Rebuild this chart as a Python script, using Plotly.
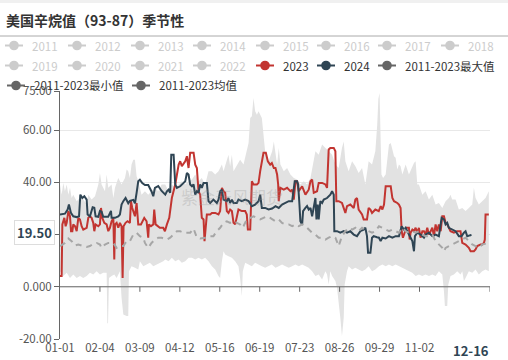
import plotly.graph_objects as go

# ---------------- data ----------------
title_text = "美国辛烷值（93-87）季节性"
x_tick_days = [0, 34, 68, 102, 136, 170, 204, 238, 272, 306]
x_tick_labels = ["01-01", "02-04", "03-09", "04-12", "05-16", "06-19", "07-23", "08-26", "09-29", "11-02"]
y_tick_vals = [-20, 0, 20, 40, 60, 75]
y_tick_labels = ["-20.00", "0.000", "", "40.00", "60.00", "75.00"]

pointer_day = 350
pointer_day_label = "12-16"
pointer_value = 19.50

d2024 = [0, 4.2, 6.5, 7.6, 9.3, 11.3, 14.2, 16.2, 17.3, 19, 20.7, 22.7, 23.5, 25.5, 27.8, 29.2, 30.3, 32.6, 34, 35.4,
         36.8, 41, 43.4, 43.9, 46.8, 49.6, 51, 52.4, 53.9, 55.8, 58.1, 59.5, 62.4, 63.8, 65.2, 66.6, 68, 70, 72.3, 75.1,
         77.9, 79.4, 80.8, 83.6, 86.5, 89.6, 91, 92.4, 93.8, 94.7, 96.7, 98.1, 99.5, 102.3, 105.2, 106.6, 108, 109.4,
         110.8, 112.3, 113.7, 115.1, 116.5, 117.9, 119.3, 120.7, 122.2, 125, 126.4, 127.8, 130.6, 133.5, 134.9, 136.3,
         137.8, 139.2, 142, 143.4, 144.8, 146.3, 147.7, 150.5, 151.9, 154.8, 157.6, 160.5, 163.3, 166.1, 169, 170.4,
         171.8, 174.6, 177.5, 180.6, 183.4, 186.2, 189, 191.9, 194.7, 197.6, 199.8, 201.8, 202.7, 203.8, 204.6, 206.1,
         206.9, 208.9, 210.3, 211.7, 213.2, 214.6, 216, 217.4, 218.3, 219.4, 220.2, 221.6, 223.1, 224.5, 227.3, 228.7,
         230.1, 231.6, 233, 233.5, 235.8, 238.6, 241.5, 244.3, 247.1, 250, 252.8, 255.6, 258.5, 259.9, 261.3, 262.2,
         264.2, 265.6, 267, 269.8, 271.5, 272.9, 274.4, 277.2, 280, 282.9, 285.7, 288.5, 290.8, 292.8, 294.2, 295.6,
         297, 298.4, 299.9, 301.3, 302.1, 304.1, 306.9, 309.8, 311.2, 314, 316.9, 319.7, 322.5, 324.8, 326.8, 328.2,
         329.6, 331, 333.8, 336.7, 339.5, 341.8, 343.8, 345.2, 346.6, 349.5, 350]
v2024 = [27.7, 28.0, 29.6, 31.5, 28.3, 27.0, 26.7, 27.0, 35.3, 34.0, 34.7, 33.4, 27.7, 27.0, 30.5, 30.3, 27.0, 26.8, 29.1, 28.8,
         26.8, 26.8, 29.1, 26.4, 26.4, 27.0, 27.7, 31.5, 32.8, 34.0, 32.0, 32.9, 33.3, 32.0, 36.0, 40.4, 41.0, 39.7, 39.0, 39.0,
         36.5, 34.7, 37.9, 38.6, 36.7, 35.3, 36.6, 37.2, 36.0, 50.6, 50.6, 39.2, 37.9, 38.5, 39.8, 40.4, 43.6, 43.0,
         39.2, 38.5, 39.2, 35.3, 36.6, 36.0, 39.2, 37.9, 39.8, 39.8, 32.8, 32.1, 33.4, 32.1, 33.4, 36.6,
         37.2, 33.4, 32.8, 34.0, 32.1, 33.4, 32.1, 32.1, 33.4, 32.8, 33.4, 32.8, 30.9, 31.5, 32.8, 35.3,
         30.2, 30.2, 29.6, 30.0, 30.9, 30.2, 31.5, 32.1, 32.8, 32.8, 40.4, 40.4, 39.2, 31.5, 25.1, 23.9,
         29.0, 30.2, 30.9, 29.6, 30.2, 27.0, 30.2, 34.0, 25.8, 31.5, 25.8, 32.8, 32.1, 33.4, 34.0, 34.7,
         35.3, 36.6, 35.3, 21.3, 21.3, 20.7, 21.3, 20.7, 21.3, 20.0, 19.4, 21.3, 21.9, 22.6, 19.4, 13.0,
         13.0, 18.8, 19.4, 19.0, 18.8, 17.5, 18.8, 18.5, 19.4, 18.8, 19.4, 19.4, 23.2, 21.9, 22.6, 21.3,
         20.0, 18.8, 17.5, 13.6, 19.4, 20.7, 20.0, 18.8, 20.0, 20.7, 19.4, 20.0, 19.4, 26.4, 25.8, 23.9,
         24.5, 22.6, 21.9, 21.3, 19.4, 19.4, 20.7, 21.3, 19.4, 19.8, 19.5]

d2023 = [0, 1.4, 2, 3.7, 4.8, 5.7, 7.1, 8.5, 9.4, 10.5, 11.3, 12.8, 14.2, 15.6, 17, 18.4, 19.8, 22.7, 24.1, 25.5,
         26.9, 28.3, 29.2, 30.3, 32.6, 34, 34.9, 36, 37.7, 39.7, 41.1, 42.5, 43.9, 45.4, 46.2, 46.8, 48.2, 49.6, 51,
         52.4, 53.3, 54.1, 55.8, 57.5, 59.5, 60.4, 61.5, 62.6, 63.8, 65.2, 66.6, 68.9, 70, 71.7, 73.7, 75.1, 75.7,
         77.4, 79.4, 80.2, 81.4, 83, 85, 87.9, 89.3, 91, 93, 95.2, 96.7, 98.1, 101, 102.3, 103.7, 105.2, 106.6, 108,
         109.4, 110.8, 113.7, 115.1, 116.5, 117.9, 119.3, 120.7, 122.2, 123, 124.2, 125, 127.8, 129.3, 132.1, 134.9,
         136.3, 137.8, 139.2, 140.6, 142, 143.4, 144.8, 146.3, 147.7, 149.1, 151.9, 154.8, 157.6, 159, 159.9, 161.9,
         163.3, 164.7, 167.6, 169, 170.4, 171.8, 173.2, 175.2, 176.9, 178.9, 180.3, 182, 183.4, 184.8, 185.7, 186.2,
         187.6, 190.5, 193.3, 196.1, 197.6, 199, 200.4, 201.8, 203.2, 206.1, 208.9, 211.7, 213.2, 214.6, 216, 218.8,
         220.2, 223.1, 225.9, 227.3, 228.7, 230.1, 233, 234.4, 235.2, 237.2, 240, 242.9, 244.3, 247.1, 250, 251.4,
         252.8, 254.2, 257.1, 258.5, 261.3, 262.7, 264.2, 265.6, 268.4, 271.3, 273, 274.4, 275.8, 277.2, 281.5,
         282.9, 284.3, 287.1, 288.5, 289.9, 290.8, 291.9, 293.6, 294.8, 297, 297.6, 298.4, 299.9, 301.3, 302.7,
         304.1, 305.5, 306.9, 308.4, 309.8, 311.2, 312.6, 314, 315.5, 316.9, 318.3, 319.7, 321.1, 322.5, 324, 325.4,
         326.8, 328.2, 329.6, 331, 332.4, 335.3, 338.1, 340.9, 342.4, 345.2, 348, 349.5, 352.3, 353.7, 355.1, 358,
         359.4, 360.8, 361.6, 362.2, 365]
v2023 = [4.1, 4.1, 23.9, 26.4, 23.2, 24.5, 29.0, 27.0, 21.3, 21.3, 23.9, 23.2, 21.3, 26.4, 25.8, 23.2, 21.9, 22.6, 26.4, 27.0,
         26.4, 24.5, 21.3, 23.9, 23.2, 23.9, 30.2, 26.4, 24.5, 23.9, 21.3, 22.6, 25.1, 26.4, 10.5, 23.9, 24.5, 22.6, 24.5,
         23.2, 3.4, 23.2, 24.5, 25.1, 24.5, 32.8, 30.2, 29.0, 27.0, 32.1, 23.9, 23.9, 25.1, 26.4, 25.1, 18.8, 23.9,
         23.2, 23.9, 29.6, 23.9, 23.2, 22.6, 22.6, 21.3, 23.9, 26.4, 34.0, 36.6, 39.2, 46.8, 48.1, 46.2, 47.4, 48.1, 50.0,
         45.5, 51.3, 51.3, 46.8, 45.5, 36.6, 35.3, 26.4, 25.8, 17.5, 25.1, 27.7, 27.7, 28.3, 28.3, 27.7,
         29.0, 37.9, 36.6, 36.0, 29.0, 28.3, 29.6, 29.0, 24.5, 23.9, 29.6, 29.0, 29.0, 27.7, 21.9, 21.9,
         40.4, 39.2, 39.2, 39.8, 44.3, 48.1, 51.3, 51.3, 48.1, 46.8, 47.4, 45.5, 45.5, 43.0, 39.2, 32.8,
         37.9, 37.2, 37.9, 36.6, 37.2, 33.4, 40.4, 40.4, 36.6, 38.5, 35.3, 37.2, 40.4, 41.1, 36.0, 36.6,
         39.8, 39.8, 39.2, 37.9, 52.6, 53.2, 53.2, 51.9, 32.8, 32.8, 32.1, 28.3, 30.9, 31.5, 30.2, 33.4,
         34.0, 29.6, 27.7, 25.8, 25.8, 30.2, 29.6, 28.3, 29.6, 29.0, 30.9, 29.6, 31.5, 38.5, 38.5,
         34.0, 32.8, 32.1, 31.5, 30.2, 21.3, 18.8, 21.3, 22.6, 22.6, 18.1, 20.7, 21.9, 21.3, 22.6,
         20.7, 22.6, 18.8, 21.3, 21.3, 20.0, 22.6, 20.0, 21.3, 22.6, 19.4, 23.9, 21.3, 23.9, 21.3, 27.0,
         27.0, 24.5, 23.9, 22.6, 21.3, 20.7, 21.3, 21.3, 16.8, 16.2, 14.9, 13.6, 13.6, 14.3, 15.6, 16.2,
         16.2, 16.8, 18.1, 27.7, 27.7]

d_mean = [0, 4.2, 7.1, 9.9, 12.8, 15.6, 18.4, 22.7, 25.5, 28.3, 31.2, 34, 35.4, 38.3, 41.1, 45.4, 48.2, 51, 53.9, 56.7,
          59.5, 62.4, 65.2, 68, 70.9, 72.3, 75.1, 77.9, 80.8, 83.6, 86.5, 91, 93.8, 96.7, 99.5, 102.3, 105.2, 108,
          110.8, 113.7, 115.1, 116.5, 119.3, 122.2, 125, 127.8, 130.6, 133.5, 136.3, 139.2, 142, 144.8, 147.7, 150.5,
          153.3, 154.8, 156.2, 159, 161.9, 164.7, 167.6, 170.4, 173.2, 176.1, 178.9, 180.6, 183.4, 186.2, 189, 191.9,
          194.7, 197.6, 200.4, 203.2, 206.1, 208.9, 211.7, 214.6, 217.4, 220.2, 223.1, 225.9, 228.7, 231.6, 234.4,
          237.2, 238.6, 240, 242.9, 245.7, 248.6, 251.4, 254.2, 257.1, 259.9, 262.7, 265.6, 268.4, 271.5, 274.4,
          277.2, 280, 282.9, 285.7, 288.5, 291.4, 294.2, 297, 299.9, 302.7, 305.5, 308.4, 311.2, 314, 316.9, 319.7,
          322.5, 325.4, 326.8, 328.2, 331, 333.8, 336.7, 339.5, 342.4, 345.2, 348, 350.9, 353.7, 356.5, 359.4, 362.2,
          365]
v_mean = [15.6, 16.8, 18.5, 17.5, 15.8, 16.2, 15.8, 15.3, 15.6, 16.5, 16.8, 16.2, 14.9, 16.2, 16.8, 16.8, 14.9, 15.6, 15.6, 17.5,
          17.5, 20.0, 20.7, 19.4, 18.8, 16.8, 14.9, 16.8, 18.1, 18.8, 18.8, 18.1, 18.8, 20.0, 21.3, 21.3, 20.7, 20.7,
          20.7, 22.3, 20.7, 18.8, 18.5, 18.8, 18.8, 19.4, 19.4, 21.3, 22.6, 24.5, 25.1, 24.5, 25.1, 24.5,
          23.9, 22.6, 23.2, 25.8, 26.4, 27.0, 26.4, 25.8, 26.4, 27.0, 26.4, 25.8, 25.1, 25.8, 24.5, 23.9,
          23.9, 23.2, 23.9, 23.2, 23.9, 23.2, 21.9, 20.7, 20.0, 18.8, 18.8, 18.1, 18.8, 19.4, 18.8,
          15.6, 17.5, 19.4, 21.3, 22.6, 21.9, 22.6, 21.3, 22.6, 21.9, 21.3, 20.7, 21.3, 23.2, 22.6,
          21.9, 21.3, 21.9, 21.3, 20.7, 22.6, 21.3, 20.7, 21.3, 20.7, 21.3, 20.0, 19.4, 19.4, 20.0, 17.5,
          16.2, 14.9, 13.6, 14.9, 15.6, 16.2, 16.8, 17.5, 18.1, 18.8, 17.5, 16.2, 15.6, 14.9, 16.2, 16.5,
          16.8]

d_max = [0, 1.4, 2.8, 4.2, 5.7, 7.1, 8.5, 9.9, 11.3, 14.2, 17, 19.8, 22.7, 24.1, 26.9, 29.8, 32.6, 34, 35.4, 38.3,
         39.7, 41.1, 43.9, 45.4, 46.8, 49.6, 52.4, 55.3, 56.7, 58.1, 59.5, 60.9, 62.4, 63.8, 65.2, 66.6, 69.4, 72.3,
         75.1, 77.9, 80.8, 83.6, 86.5, 89.6, 92.4, 95.2, 98.1, 101, 103.7, 106.6, 109.4, 112.3, 115.1, 117.9, 120.7,
         123.6, 126.4, 129.3, 132.1, 134.9, 137.8, 139.2, 142, 143.4, 144.8, 146.3, 147.7, 150.5, 153.3, 156.2, 159,
         160.5, 161.9, 163.3, 164.7, 166.1, 167.6, 169, 171.8, 173.2, 174.6, 177.5, 180.6, 182, 183.4, 184.8, 186.2,
         187.6, 190.5, 193.3, 196.1, 199, 201.8, 204.6, 207.5, 210.3, 213.2, 216, 217.4, 220.2, 223.1, 225.9, 228.7,
         231.6, 234.4, 237.2, 240, 241.5, 242.9, 245.7, 248.6, 251.4, 254.2, 257.1, 259.9, 262.7, 265.6, 268.4, 270,
         271, 272, 273, 273.6, 275, 277.2, 280, 281.5, 282.9, 284.3, 285.7, 287.1, 288.5, 289.9, 291.4, 294.2, 297,
         299.9, 301.3, 302.7, 304.1, 305.5, 308.4, 311.2, 314, 316.9, 319.7, 322.5, 325.4, 328.2, 331, 332.4, 333.8,
         336.7, 339.5, 342.4, 345.2, 348, 350.9, 352.3, 353.7, 356.5, 359.4, 362.2, 365]
v_max = [39.2, 35.3, 39.8, 36.6, 39.2, 35.3, 37.9, 34.0, 35.3, 32.8, 34.0, 33.4, 31.5, 35.3, 33.4, 34.7, 39.2, 43.6, 39.2, 36.6,
         43.0, 37.9, 39.2, 34.0, 37.9, 41.7, 39.2, 41.7, 44.9, 44.3, 41.7, 46.8, 48.7, 48.7, 42.3, 40.4, 35.3, 36.6,
         35.3, 36.6, 37.9, 36.6, 39.2, 39.2, 36.6, 39.2, 37.9, 39.2, 40.4, 39.2, 40.4, 41.1, 43.0, 40.4, 41.7,
         39.2, 44.3, 44.3, 43.0, 44.3, 46.8, 44.3, 48.1, 50.6, 46.2, 50.6, 44.3, 46.8, 48.7, 46.8, 51.9,
         55.1, 64.7, 65.3, 72.3, 67.2, 65.9, 67.2, 64.7, 58.3, 51.9, 48.1, 51.9, 55.7, 51.9, 46.8, 53.2,
         46.8, 44.3, 45.5, 43.0, 41.7, 41.1, 39.2, 40.4, 39.2, 41.7, 48.1, 51.9, 50.6, 54.5, 53.2, 51.9,
         50.6, 46.8, 45.5, 53.2, 55.7, 48.1, 44.3, 48.1, 46.2, 43.6, 45.5, 39.2, 48.1, 46.8, 51.9, 62.0,
         72.0, 74.2, 60.0, 43.0, 41.7, 43.0, 54.5, 55.1, 52.6, 50.0, 49.4, 44.9, 46.8, 46.2, 43.0, 46.8, 43.0,
         46.2, 47.4, 48.1, 39.2, 39.2, 35.3, 36.6, 33.4, 35.3, 31.5, 32.1, 30.2, 32.8, 34.0, 35.3, 33.4,
         33.4, 29.6, 30.2, 29.0, 30.2, 31.5, 37.9, 34.0, 31.5, 32.8, 34.0, 36.6]

d_min = [0, 2.8, 5.7, 8.5, 11.3, 14.2, 17, 19.8, 22.7, 25.5, 28.3, 31.2, 34, 36.8, 39.7, 40.3, 40.9, 41.7, 43.9, 46.2,
         48.2, 51, 52.4, 53.9, 56.7, 58.1, 58.7, 60.9, 63.8, 66.6, 68, 70.9, 73.7, 76.5, 79.4, 82.2, 85, 87.9, 89.6,
         92.4, 95.2, 98.1, 101, 103.7, 106.6, 109.4, 112.3, 115.1, 117.9, 120.7, 123.6, 126.4, 129.3, 132.1, 134.9,
         136.3, 137.8, 139.2, 140.6, 143.4, 146.3, 149.1, 151.9, 153.3, 154.8, 155.6, 157.6, 160.5, 163.3, 166.1, 169,
         171.8, 174.6, 177.5, 180.3, 183.4, 186.2, 189, 191.9, 194.7, 197.6, 200.4, 203.2, 206.1, 208.9, 211.7, 214.6,
         217.4, 220.2, 223.1, 225.9, 227.3, 228.7, 230.1, 231.6, 234.4, 235.8, 237.2, 238.6, 240, 241.5, 242.3, 244.3,
         245.7, 248.6, 251.4, 254.2, 257.1, 259.9, 262.7, 265.6, 268.4, 271.5, 274.4, 277.2, 280, 282.9, 285.7, 288.5,
         291.4, 294.2, 297, 299.9, 302.7, 305.5, 308.4, 311.2, 314, 316.9, 319.7, 322.5, 325.4, 326.8, 327.6, 329.6,
         330.5, 332.4, 335.3, 338.1, 340.9, 342.4, 343.8, 345.2, 348, 350.9, 353.7, 356.5, 359.4, 362.2, 365]
v_min = [6.0, 4.1, 5.4, 3.4, 4.7, 3.4, 4.1, 3.4, 4.1, 5.4, 4.7, 6.0, 4.7, 5.4, 5.4, -14.0, -14.0, 3.4, 4.1, 4.7,
         3.4, 6.0, -4.2, -10.6, -11.2, -11.2, 6.0, 7.9, 7.3, 6.6, 9.8, 7.9, 8.5, 9.2, 7.9, 8.5, 9.2, 9.8, 10.5,
         9.8, 11.1, 9.8, 10.5, 9.2, 9.8, 11.1, 11.1, 10.5, 11.1, 10.5, 11.1, 9.8, 7.9, 6.6, 4.1,
         3.4, 9.8, 13.6, 12.4, 11.7, 11.1, 9.8, 7.9, 3.4, -3.6, 6.0, 9.2, 8.5, 7.9, 9.2, 8.5,
         7.9, 7.3, 7.9, 8.5, 7.3, 7.9, 8.5, 7.9, 7.3, 7.9, 8.5, 7.9, 8.5, 7.9, 7.3, 6.0,
         4.1, 4.7, 2.8, 6.0, 4.7, 0.9, 6.0, 4.1, 2.2, -0.4, -5.5, -11.9, -18.9, -11.9, 0.9, 6.0,
         7.9, 6.6, 7.3, 6.6, 6.0, 6.6, 7.9, 6.0, 6.6, 7.9, 8.5, 7.9, 8.5, 7.9, 8.5, 7.9,
         7.3, 6.6, 6.0, 5.4, 4.1, 4.7, 4.1, 4.7, 4.1, 4.7, 4.1, 6.0, 4.7, -1.7, -7.4, -7.4,
         0.9, 4.1, 4.7, 6.0, 4.7, 6.0, 2.2, 3.4, 6.0, 5.4, 6.6, 4.7, 6.0, 6.6, 6.0]

legend_rows = [
    ["2011", "2012", "2013", "2014", "2015", "2016", "2017", "2018"],
    ["2019", "2020", "2021", "2022", "2023", "2024", "2011-2023最大值"],
    ["2011-2023最小值", "2011-2023均值"],
]
legend_active = {"2023": "#c23531", "2024": "#2f4554", "2011-2023最大值": "#666666",
                 "2011-2023最小值": "#666666", "2011-2023均值": "#666666"}
watermark = "紫金天风期货"

# ---------------- layout geometry ----------------
W_FIG, H_FIG = 508, 360
L, R, T, B = 60, 18, 91, 21
PW, PH = W_FIG - L - R, H_FIG - T - B


def px(x):
    return (x - L) / PW


def py(y):
    return (T + PH - y) / PH


FONT = "Noto Sans CJK SC, Noto Sans, sans-serif"
RED = "#c23531"
NAVY = "#2f4554"
BAND = "#e2e2e2"

fig = go.Figure()

# grey min-max band
fig.add_trace(go.Scatter(
    x=d_max + d_min[::-1], y=v_max + v_min[::-1],
    fill="toself", fillcolor=BAND, line=dict(width=0), mode="lines",
    hoverinfo="skip", showlegend=False))

fig.add_trace(go.Scatter(x=d2023, y=v2023, mode="lines", line=dict(color=RED, width=2),
                         showlegend=False, name="2023"))
fig.add_trace(go.Scatter(x=d2024, y=v2024, mode="lines", line=dict(color=NAVY, width=2),
                         showlegend=False, name="2024"))
fig.add_trace(go.Scatter(x=d_mean, y=v_mean, mode="lines",
                         line=dict(color="#a6a6a6", width=2, dash="6px,5px"),
                         showlegend=False, name="2011-2023均值"))

shapes = []
annotations = []

# top strip and title separator
shapes.append(dict(type="rect", xref="paper", yref="paper", x0=px(0), x1=px(W_FIG), y0=py(0), y1=py(3),
                   fillcolor="#f0f0f0", line=dict(width=0), layer="below"))
shapes.append(dict(type="line", xref="paper", yref="paper", x0=px(0), x1=px(W_FIG), y0=py(36), y1=py(36),
                   line=dict(color="#aaaaaa", width=1)))

# zero axis line with ticks
shapes.append(dict(type="line", xref="x", yref="y", x0=0, x1=366, y0=0, y1=0,
                   line=dict(color="#666666", width=1), layer="above"))
for d in x_tick_days[1:] + [366]:
    shapes.append(dict(type="line", xref="x", yref="y", x0=d, x1=d, ysizemode="pixel", yanchor=0,
                       y0=0, y1=-5, line=dict(color="#666666", width=1)))

annotations.append(dict(text=title_text, x=px(4), y=py(20), xref="paper", yref="paper",
                        xanchor="left", yanchor="middle", showarrow=False,
                        font=dict(family=FONT, size=14, color="#333333", weight="bold")))

# manual legend
row_y = [45.5, 65.5, 85.5]
row_x = [
    [14, 77, 140, 202, 265, 326, 387, 450],
    [14, 77, 140, 202, 265, 326, 387],
    [16, 141],
]
for r, names in enumerate(legend_rows):
    for i, name in enumerate(names):
        cx, cy = row_x[r][i], row_y[r]
        col = legend_active.get(name, "#cccccc")
        tcol = "#333333" if name in legend_active else "#cccccc"
        shapes.append(dict(type="line", xref="paper", yref="paper", x0=px(cx - 9), x1=px(cx + 9),
                           y0=py(cy), y1=py(cy), line=dict(color=col, width=2)))
        shapes.append(dict(type="circle", xref="paper", yref="paper",
                           xsizemode="pixel", ysizemode="pixel", xanchor=px(cx), yanchor=py(cy),
                           x0=-4.8, x1=4.8, y0=-4.8, y1=4.8, fillcolor=col, line=dict(color=col, width=0)))
        annotations.append(dict(text=name, x=px(cx + 16), y=py(cy), xref="paper", yref="paper",
                                xanchor="left", yanchor="middle", showarrow=False,
                                font=dict(family=FONT, size=11.5, color=tcol)))

# watermark
annotations.append(dict(text=watermark, x=px(232), y=py(196), xref="paper", yref="paper",
                        showarrow=False, font=dict(family=FONT, size=17, color="rgba(150,150,150,0.3)")))

# axis pointer labels
annotations.append(dict(text="<b>%.2f</b>" % pointer_value, x=0, y=pointer_value, xref="paper", yref="y",
                        xanchor="right", yanchor="middle", xshift=-5, yshift=3, showarrow=False,
                        bgcolor="white", bordercolor="#dddddd", borderwidth=1, borderpad=2,
                        font=dict(family=FONT, size=13, color="#2f4554")))
annotations.append(dict(text="<b>%s</b>" % pointer_day_label, x=pointer_day, y=0, xref="x", yref="paper",
                        xanchor="center", yanchor="top", yshift=0, showarrow=False,
                        font=dict(family=FONT, size=13, color="#2f4554")))

fig.update_layout(
    width=W_FIG, height=H_FIG,
    margin=dict(l=L, r=R, t=T, b=B, pad=0),
    paper_bgcolor="white", plot_bgcolor="white",
    showlegend=False,
    shapes=shapes, annotations=annotations,
    xaxis=dict(range=[0, 366], tickmode="array", tickvals=x_tick_days, ticktext=x_tick_labels,
               showgrid=False, zeroline=False, showline=False, ticks="", automargin=False,
               tickfont=dict(family=FONT, size=11.5, color="#555555")),
    yaxis=dict(range=[-20, 75], tickmode="array", tickvals=y_tick_vals, ticktext=y_tick_labels,
               showgrid=True, gridcolor="#e8e8e8", gridwidth=1, zeroline=False, automargin=False,
               showline=True, linecolor="#666666", linewidth=1, ticks="outside", ticklen=5,
               tickcolor="#666666", layer="above traces",
               tickfont=dict(family=FONT, size=11.5, color="#555555")),
)

fig.write_html("out.html", config={"displayModeBar": False},
               post_script="document.body.style.margin='0';")
